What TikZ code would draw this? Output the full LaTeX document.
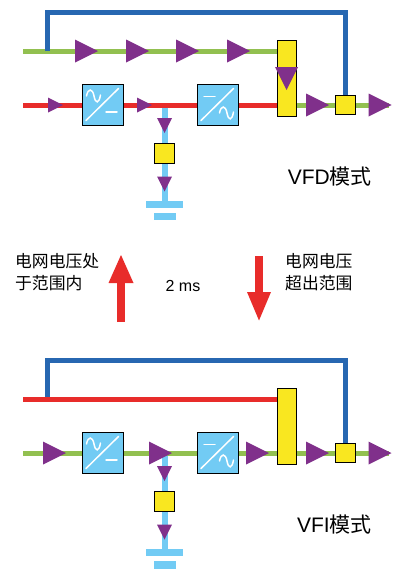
\documentclass[tikz,border=0pt]{standalone}
\usepackage{fontspec}
\setmainfont{Liberation Sans}
\newfontfamily\cjk{Noto Sans CJK SC}
\definecolor{gline}{HTML}{92C050}
\definecolor{rline}{HTML}{E82C2A}
\definecolor{bline}{HTML}{2767B1}
\definecolor{lblue}{HTML}{72CBF4}
\definecolor{yel}{HTML}{F9E720}
\definecolor{purp}{HTML}{80308B}
\pgfdeclarelayer{wires}
\pgfsetlayers{wires,main}
\tikzset{
 greenw/.style={gline,line width=5pt},
 redw/.style={rline,line width=5pt},
 bluew/.style={bline,line width=5pt},
 lbw/.style={lblue,line width=6pt},
 ybox/.style={draw=black,fill=yel,line width=0.9pt,inner sep=0pt,minimum width=19pt},
 ysq/.style={ybox,minimum width=19.5pt,minimum height=19.5pt},
 ytall/.style={ybox,minimum height=76pt},
 conv/.style={draw=black,fill=lblue,line width=1pt,minimum size=41pt,inner sep=0pt},
 tri/.style={fill=purp,draw=none},
 lab/.style={font=\cjk\fontsize{16.8}{22}\selectfont,align=left,inner sep=0pt,anchor=west},
 mode/.style={font=\fontsize{21}{24}\selectfont,inner sep=0pt,anchor=east},
 wav/.style={white,line width=1.5pt,line cap=round},
}
\newcommand{\rtri}[4]{\fill[tri] (#1,#2-#4) -- (#1+#3,#2) -- (#1,#2+#4) -- cycle;}
\newcommand{\dtri}[4]{\fill[tri] (#1-#4,#2) -- (#1,#2+#3) -- (#1+#4,#2) -- cycle;}
% sine glyph at (x,y) inside a converter, relative to its north west corner
\newcommand{\sine}[2]{
 \draw[wav] (#1,#2) .. controls (#1+1.5,#2-8) and (#1+6,#2-8) .. (#1+7.5,#2)
   .. controls (#1+9,#2+8) and (#1+12.5,#2+8) .. (#1+14,#2-1);
}
\newcommand{\acdc}[1]{
 \begin{scope}[shift={(#1.north west)}]
 \draw[wav] (4,36.5) -- (36.5,4.5);
 \sine{4.5}{12}
 \draw[wav] (24,28) -- (35,28);
 \end{scope}
}
\newcommand{\dcac}[1]{
 \begin{scope}[shift={(#1.north west)}]
 \draw[wav] (4,36.5) -- (36.5,4.5);
 \draw[wav] (7,12.5) -- (18,12.5);
 \sine{22.5}{29}
 \end{scope}
}
\begin{document}
\begin{tikzpicture}[x=1pt,y=-1pt]
\useasboundingbox (0,0) rectangle (400,570);
% ---------- top: VFD
\coordinate (t1g) at (23,51);
\coordinate (t1j) at (47,51);
\coordinate (t1r) at (23,105);
\coordinate (t1e) at (389,105);
\coordinate (t1d) at (164.5,105);
\coordinate (t1c1) at (47,12.5);
\coordinate (t1c2) at (345.5,12.5);
\coordinate (t1gnd) at (164.5,204);
\node[ytall] (t1sw) at (286.5,78.3) {};
\node[ysq] (t1sq) at (345.5,105) {};
\node[conv] (t1a) at (103,105) {};
\node[conv] (t1b) at (218,105) {};
\node[ysq] (t1bs) at (164.5,153.3) {};
\begin{pgfonlayer}{wires}
\draw[greenw] (t1g) -- (t1sw.west |- t1g);
\draw[bluew] (t1j) -- (t1c1) -- (t1c2) -- (t1sq.north);
\draw[redw] (t1r) -- (t1a.west);
\draw[redw] (t1a.east) -- (t1b.west);
\draw[redw] (t1b.east) -- (t1sw.west |- t1r);
\draw[greenw] (t1sw.east |- t1e) -- (t1sq.west);
\draw[greenw] (t1sq.east) -- (t1e);
\draw[lbw] (t1d) ++(0,2.5) -- (t1bs.north);
\draw[lbw] (t1bs.south) -- (t1gnd);
\end{pgfonlayer}
\fill[lblue] (146,201) rectangle (183,207.5);
\fill[lblue] (154,213) rectangle (176,220);
\acdc{t1a}\dcac{t1b}
\rtri{75}{51}{23}{11.5}\rtri{126}{51}{23}{11.5}\rtri{176}{51}{23}{11.5}\rtri{227}{51}{23}{11.5}
\dtri{286.5}{67}{23}{11.5}
\rtri{48}{105}{15}{7.5}\rtri{137}{105}{15}{7.5}
\rtri{306}{105}{23}{11.5}\rtri{368.5}{105}{23}{11.5}
\dtri{164.5}{118}{15}{7.5}\dtri{164.5}{176.5}{15}{7.5}
\node[mode] (t1m) at (372,176.5) {VFD{\cjk 模式}};
% ---------- middle
\node[lab] (ml) at (15,272) {电网电压处\\于范围内};
\node[lab] (mr) at (285,272) {电网电压\\超出范围};
\node[font=\fontsize{16}{18}\selectfont,inner sep=0pt] (mt) at (183,286) {2 ms};
\coordinate (up0) at (121,322);
\coordinate (up1) at (121,282);
\coordinate (dn0) at (259,256);
\coordinate (dn1) at (259,293);
\draw[rline,line width=7.5pt] (up0) -- (up1);
\fill[rline] (108.5,283) -- (121,255) -- (133.5,283) -- cycle;
\draw[rline,line width=7.5pt] (dn0) -- (dn1);
\fill[rline] (247,292) -- (259,320.5) -- (271,292) -- cycle;
% ---------- bottom: VFI
\coordinate (b1r) at (23,399);
\coordinate (b1j) at (47,399);
\coordinate (b1g) at (23,453);
\coordinate (b1e) at (389,453);
\coordinate (b1d) at (164.5,453);
\coordinate (b1c1) at (47,360.5);
\coordinate (b1c2) at (345.5,360.5);
\coordinate (b1gnd) at (164.5,552);
\node[ytall] (b1sw) at (286.5,426.5) {};
\node[ysq] (b1sq) at (345.5,453) {};
\node[conv] (b1a) at (103,453) {};
\node[conv] (b1b) at (218,453) {};
\node[ysq] (b1bs) at (164.5,501.3) {};
\begin{pgfonlayer}{wires}
\draw[bluew] (b1j) -- (b1c1) -- (b1c2) -- (b1sq.north);
\draw[redw] (b1r) -- (b1sw.west |- b1r);
\draw[greenw] (b1g) -- (b1a.west);
\draw[greenw] (b1a.east) -- (b1b.west);
\draw[greenw] (b1b.east) -- (b1sw.west |- b1g);
\draw[greenw] (b1sw.east |- b1e) -- (b1sq.west);
\draw[greenw] (b1sq.east) -- (b1e);
\draw[lbw] (b1d) ++(0,2.5) -- (b1bs.north);
\draw[lbw] (b1bs.south) -- (b1gnd);
\end{pgfonlayer}
\fill[lblue] (146,549) rectangle (183,556);
\fill[lblue] (154,561) rectangle (176,569);
\acdc{b1a}\dcac{b1b}
\rtri{43}{453}{23}{11.5}\rtri{149}{453}{23}{11.5}\rtri{246}{453}{23}{11.5}
\rtri{306}{453}{23}{11.5}\rtri{368.5}{453}{23}{11.5}
\dtri{164.5}{466}{15}{7.5}\dtri{164.5}{524.5}{15}{7.5}
\node[mode] (b1m) at (372,524.5) {VFI{\cjk 模式}};
\end{tikzpicture}
\end{document}
